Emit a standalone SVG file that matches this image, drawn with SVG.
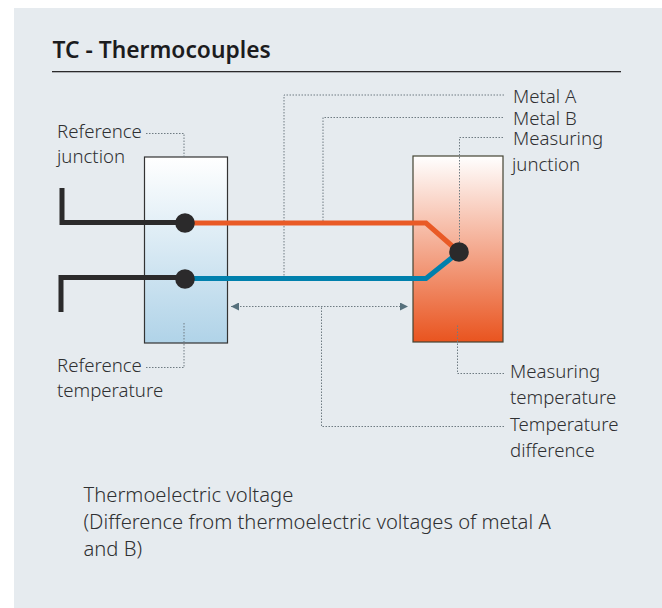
<svg xmlns="http://www.w3.org/2000/svg" width="662" height="608" viewBox="0 0 662 608">
<style>
text{font-family:"Noto Sans","Liberation Sans",sans-serif;font-size:18.6px;font-weight:300;fill:#2f3032}
.n{font-size:20.2px}
.t{font-size:22.8px;font-weight:600;fill:#1c1c1e}
.d{fill:none;stroke:#6f7b82;stroke-width:1;stroke-dasharray:1.5 1.5}
.k{fill:none;stroke:#2b2a2b;stroke-width:5}
.o{fill:none;stroke:#e95a26;stroke-width:5}
.b{fill:none;stroke:#0080ad;stroke-width:5}
.j{fill:#2b2a2b}
</style>
<defs>
<linearGradient id="gb" x1="0" y1="0" x2="0" y2="1"><stop offset="0" stop-color="#fff"/><stop offset="1" stop-color="#b0d3e8"/></linearGradient>
<linearGradient id="gr" x1="0" y1="0" x2="0" y2="1"><stop offset="0" stop-color="#fff"/><stop offset="1" stop-color="#e9541f"/></linearGradient>
<marker id="ah" markerWidth="8" markerHeight="8" refX="8" refY="4" orient="auto-start-reverse" markerUnits="userSpaceOnUse"><path d="M0 0L8 4L0 8Z" fill="#56707c"/></marker>
</defs>
<rect width="662" height="608" fill="#fff"/>
<rect x="14" y="8" width="648" height="600" fill="#e6ebef"/>
<g id="title"><text class="t" x="52.500" y="57.500">TC - Thermocouples</text><rect x="52" y="71" width="569" height="1.300" fill="#2b2a2b"/></g>
<g id="reference-box"><rect x="144.500" y="157" width="83" height="186" fill="url(#gb)" stroke="#333" stroke-width="1.200"/></g>
<g id="measuring-box"><rect x="413" y="156" width="90" height="186" fill="url(#gr)" stroke="#443" stroke-width="1.200"/></g>
<g id="connectors">
<path class="d" d="M504 95H284V278"/>
<path class="d" d="M503 117.500H323V223"/>
<path class="d" d="M503 137.500H459.500V243"/>
<path class="d" d="M146 133.500H184V157"/>
<path class="d" d="M146 367.500H184V322"/>
<path class="d" d="M504 373.500H457.500V325"/>
<path class="d" d="M504 426.500H321.500V306.500"/>
<path class="d" d="M231 306.500H408" marker-start="url(#ah)" marker-end="url(#ah)"/>
<path class="k" d="M62 188V222.500H184"/>
<path class="k" d="M61 312V277.500H184"/>
<path class="o" d="M190 223H426L459 252"/>
<path class="b" d="M190 278.500H426L459 252"/>
</g>
<g id="junction-1"><circle class="j" cx="185" cy="223" r="9.800"/></g>
<g id="junction-2"><circle class="j" cx="185" cy="279" r="9.800"/></g>
<g id="junction-3"><circle class="j" cx="459" cy="252" r="9.800"/></g>
<g id="labels">
<text x="57" y="138">Reference</text><text x="57" y="163">junction</text>
<text x="513" y="103">Metal A</text><text x="513" y="125">Metal B</text>
<text x="513" y="145">Measuring</text><text x="512" y="171">junction</text>
<text x="57" y="372">Reference</text><text x="57" y="397">temperature</text>
<text x="510" y="378">Measuring</text><text x="510" y="404">temperature</text>
<text x="510" y="431">Temperature</text><text x="510" y="457">difference</text>
<text class="n" x="83.500" y="502">Thermoelectric voltage</text>
<text class="n" x="83.500" y="529">(Difference from thermoelectric voltages of metal A</text>
<text class="n" x="83.500" y="555.500">and B)</text>
</g>
</svg>
